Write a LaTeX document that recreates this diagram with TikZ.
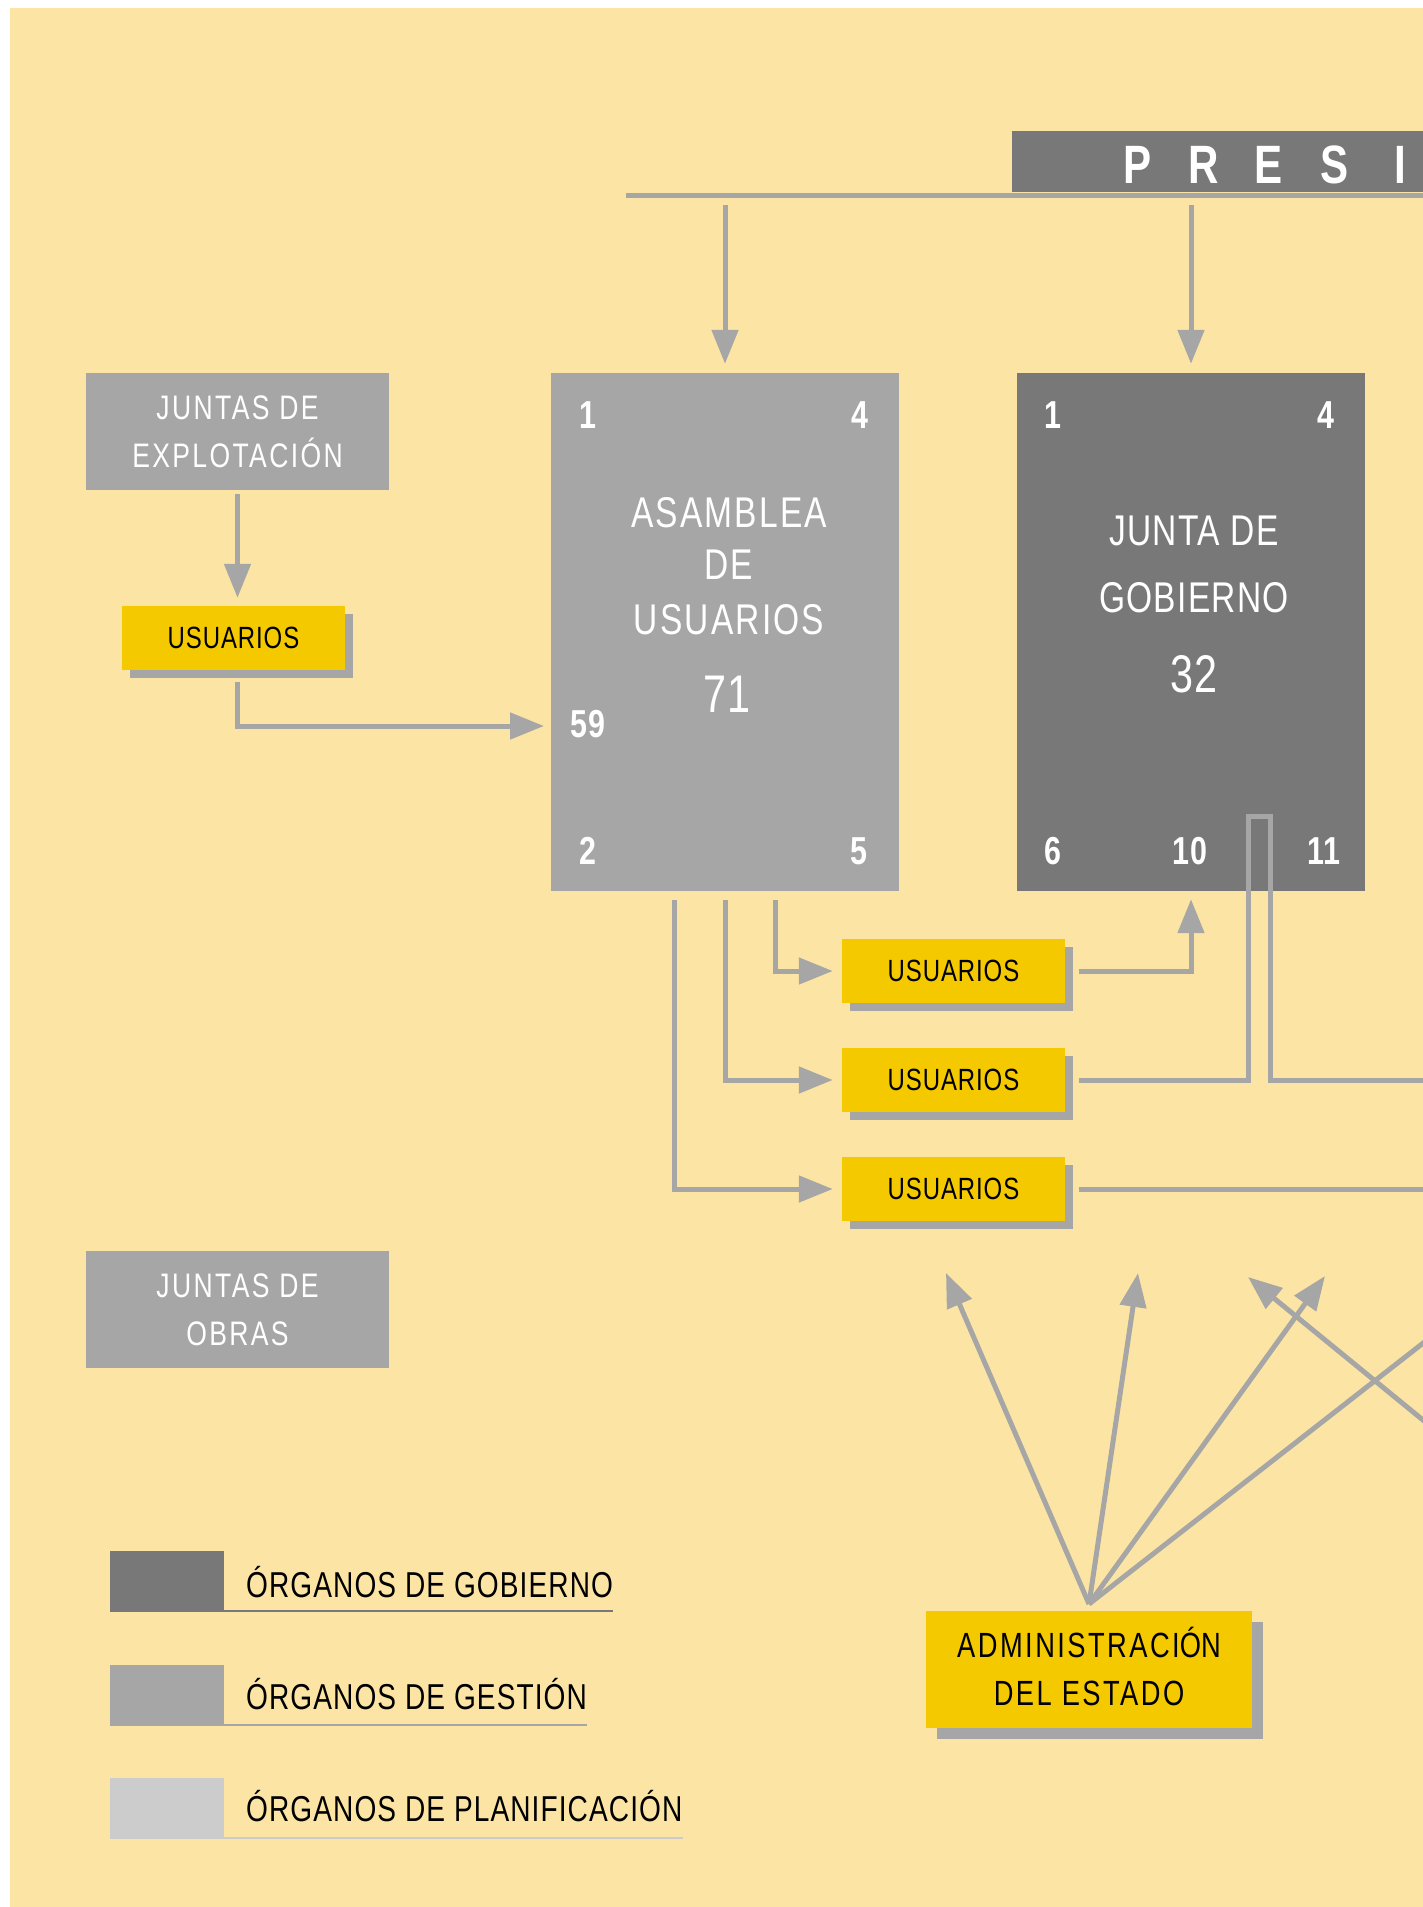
\documentclass[tikz,border=0pt]{standalone}
\usepackage{fontspec}
\setmainfont{Liberation Sans}[FakeStretch=0.78,LetterSpace=3]
\newfontfamily\widefont{Liberation Sans}[FakeStretch=0.78,LetterSpace=7]
\newfontfamily\midfont{Liberation Sans}[FakeStretch=0.78,LetterSpace=5]
\usetikzlibrary{arrows.meta}
\definecolor{beige}{HTML}{FCE5A4}
\definecolor{yel}{HTML}{F4C900}
\definecolor{dgray}{HTML}{787878}
\definecolor{mgray}{HTML}{A6A6A6}
\definecolor{lgray}{HTML}{CCCCCC}
\newcommand\setfs[2]{\fontsize{#1}{#2}\selectfont}
\newcommand\pl[1]{\makebox[65.5pt]{#1}}
\begin{document}
\begin{tikzpicture}[x=1pt,y=-1pt,
  conn/.style={draw=mgray,line width=5pt},
  arr/.style={conn,-{Triangle[width=26pt,length=34pt]}},
  gbox/.style={fill=mgray,inner sep=0pt,text=white,align=center,minimum width=303pt,minimum height=117pt,font=\widefont\setfs{34}{48}},
  ybox/.style={fill=yel,inner sep=0pt,text=black,align=center,
     preaction={fill=mgray,transform canvas={shift={(#1,-#1)}}}},
  ybox/.default=8pt,
  usu/.style={ybox,minimum width=223pt,minimum height=64pt,font=\setfs{30.7}{36}},
  bigbox/.style={inner sep=0pt,minimum width=348pt,minimum height=518pt},
  num/.style={text=white,anchor=base,inner sep=0pt,font=\bfseries\setfs{39}{44}},
  ttl/.style={text=white,anchor=base,inner sep=0pt,font=\setfs{43}{50}},
  big/.style={text=white,anchor=base,inner sep=0pt,font=\setfs{53}{60}},
  leg/.style={anchor=base west,inner sep=0pt,text=black,font=\setfs{36}{40}},
  sw/.style={anchor=north west,inner sep=0pt,minimum width=113.5pt,minimum height=61pt}]
\useasboundingbox (0,0) rectangle (1423,1907);
\clip (0,0) rectangle (1423,1907);
\fill[white] (0,0) rectangle (1423,1907);
\fill[beige] (10,8) rectangle (1423,1907);

% presidencia
\node[fill=dgray,anchor=north west,inner sep=0pt,minimum width=440pt,minimum height=61pt] (presi) at (1012,131) {};
\node[anchor=base west,inner sep=0pt,text=white,font=\bfseries\setfs{54}{60}] (presitxt) at (1105,183) {\pl{P}\pl{R}\pl{E}\pl{S}\pl{I}};
\coordinate (barL) at (626,195);
\coordinate (barR) at (1450,195);

% main boxes
\node[bigbox,fill=mgray] (asamblea) at (725,632) {};
\node[bigbox,fill=dgray] (junta) at (1191,632) {};

\node[num] (a1) at (588,428) {1};
\node[num] (a4) at (860,428) {4};
\node[num] (a59) at (588,737) {59};
\node[num] (a2) at (588,864) {2};
\node[num] (a5) at (859,864) {5};
\node[ttl,font=\midfont\setfs{43}{50}] (at1) at (729,527) {ASAMBLEA};
\node[ttl,font=\midfont\setfs{43}{50}] (at2) at (729,579) {DE};
\node[ttl,font=\midfont\setfs{43}{50}] (at3) at (729,634) {USUARIOS};
\node[big] (a71) at (727,712) {71};

\node[num] (j1) at (1053,428) {1};
\node[num] (j4) at (1326,428) {4};
\node[num] (j6) at (1053,864) {6};
\node[num] (j10) at (1190,864) {10};
\node[num] (j11) at (1324,864) {11};
\node[ttl] (jt1) at (1194,545) {JUNTA DE};
\node[ttl] (jt2) at (1194,612) {GOBIERNO};
\node[big] (j32) at (1194,692) {32};

% left column
\node[gbox] (explot) at (237.5,431.5) {JUNTAS DE\\EXPLOTACIÓN};
\node[usu] (usu0) at (233.5,638) {USUARIOS};
\node[gbox] (obras) at (237.5,1309.5) {JUNTAS DE\\OBRAS};

% usuarios column
\node[usu] (usu1) at (953.5,971) {USUARIOS};
\node[usu] (usu2) at (953.5,1080) {USUARIOS};
\node[usu] (usu3) at (953.5,1189) {USUARIOS};

% administracion
\node[ybox=11pt,minimum width=326pt,minimum height=117pt,font=\widefont\setfs{35}{48}] (admin) at (1089,1669.5) {ADMINISTRACI\smash{Ó}N\\DEL ESTADO};

% connectors
\draw[conn] (barL) -- (barR);
\draw[arr,shorten <=10pt,shorten >=9pt] (asamblea.north |- barL) -- (asamblea.north);
\draw[arr,shorten <=10pt,shorten >=9pt] (junta.north |- barL) -- (junta.north);

\draw[arr,shorten <=4pt,shorten >=8pt] (explot.south) -- (explot.south |- usu0.north);
\coordinate (in59) at (551,726);
\draw[arr,shorten <=12pt,shorten >=7pt] (usu0.south -| explot.south) |- (in59);

\coordinate (as1) at (775,891);
\coordinate (as3) at (674,891);
\draw[arr,shorten <=9pt,shorten >=9pt] (as1) |- (usu1.west);
\draw[arr,shorten <=9pt,shorten >=9pt] (asamblea.south) |- (usu2.west);
\draw[arr,shorten <=9pt,shorten >=9pt] (as3) |- (usu3.west);

\draw[arr,shorten <=14pt,shorten >=8pt] (usu1.east) -| (junta.south);
\coordinate (lpA) at (1248,816);
\coordinate (lpB) at (1270,816);
\coordinate (e2) at (1450,1080);
\draw[conn,shorten <=14pt] (usu2.east) -| (lpA) -- (lpB) |- (e2);
\coordinate (e3) at (1450,1189);
\draw[conn,shorten <=14pt] (usu3.east) -- (e3);

\coordinate (src) at (1089,1604);
\coordinate (t1) at (946,1273);
\coordinate (t2) at (1138,1273);
\coordinate (t3) at (1325,1276);
\coordinate (t4) at (1248,1277);
\coordinate (e4) at (1500,1283);
\coordinate (e5) at (1500,1483);
\draw[arr] (src) -- (t1);
\draw[arr] (src) -- (t2);
\draw[arr] (src) -- (t3);
\draw[conn] (src) -- (e4);
\draw[arr] (e5) -- (t4);

% legend
\node[sw,fill=dgray] (sw1) at (110,1551) {};
\node[sw,fill=mgray] (sw2) at (110,1665) {};
\node[sw,fill=lgray] (sw3) at (110,1778) {};
\node[leg] (lg1) at (246,1597) {ÓRGANOS DE GOBIERNO};
\node[leg] (lg2) at (246,1709) {ÓRGANOS DE GESTIÓN};
\node[leg] (lg3) at (246,1821) {ÓRGANOS DE PLANIFICACIÓN};
\coordinate (u1) at ([yshift=1.3pt]sw1.south east);
\coordinate (u2) at ([yshift=1.3pt]sw2.south east);
\coordinate (u3) at ([yshift=1.3pt]sw3.south east);
\draw[dgray,line width=2.6pt] (u1) -- (u1 -| lg1.east);
\draw[mgray,line width=2.6pt] (u2) -- (u2 -| lg2.east);
\draw[lgray,line width=2.6pt] (u3) -- (u3 -| lg3.east);
\end{tikzpicture}
\end{document}
